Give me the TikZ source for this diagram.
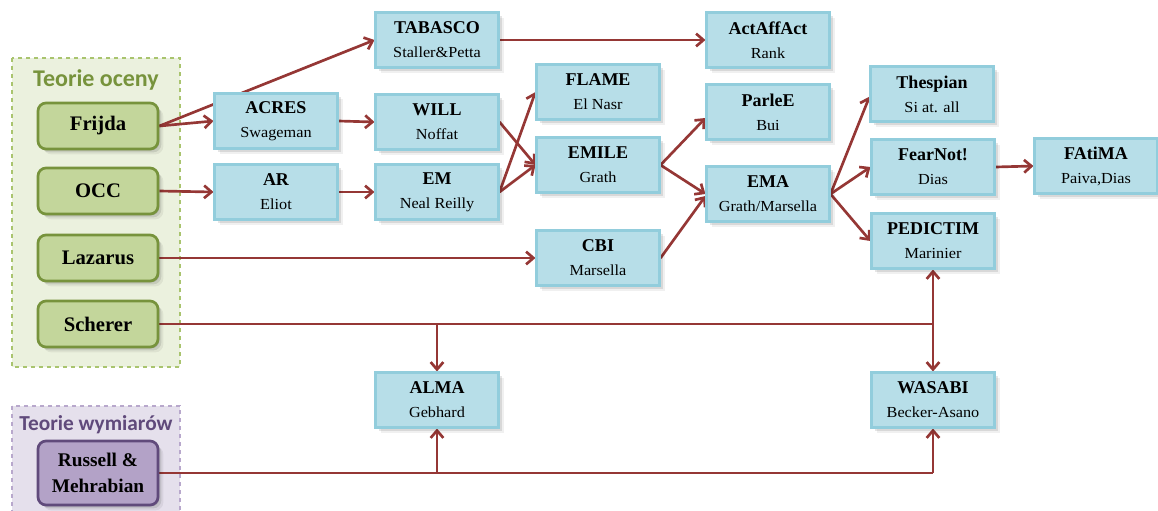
\documentclass[tikz,border=0pt]{standalone}
\usepackage{fontspec}
\setmainfont{Liberation Serif}
\newfontfamily\subfont[FakeStretch=1.06]{Liberation Serif}
\newfontfamily\grpfont{Carlito}
\usetikzlibrary{arrows.meta,shadows,calc}

\definecolor{boxfill}{HTML}{B7DEE8}
\definecolor{boxedge}{HTML}{92CDDC}
\definecolor{apprfill}{HTML}{C3D69B}
\definecolor{appredge}{HTML}{77933C}
\definecolor{apprgroup}{HTML}{EBF1DE}
\definecolor{apprdash}{HTML}{A9C46E}
\definecolor{dimfill}{HTML}{B3A2C7}
\definecolor{dimedge}{HTML}{604A7B}
\definecolor{dimgroup}{HTML}{E5E0EC}
\definecolor{dimdash}{HTML}{B8A8CC}
\definecolor{linkred}{HTML}{953735}

\pgfdeclarelayer{groups}
\pgfdeclarelayer{links}
\pgfsetlayers{groups,links,main}

\newcommand{\boxtitle}[1]{{\bfseries\fontsize{13.5}{18}\selectfont #1}}
\newcommand{\boxsub}[1]{{\subfont\fontsize{11.5}{19.5}\selectfont #1}}

\tikzset{
  % a soft shadow built from three stacked translucent copies
  softshadow/.style={
    drop shadow={shadow xshift=1pt, shadow yshift=-1pt, opacity=0.16, fill=black},
    drop shadow={shadow xshift=2.5pt, shadow yshift=-2.5pt, opacity=0.10, fill=black},
    drop shadow={shadow xshift=4pt, shadow yshift=-4pt, opacity=0.06, fill=black}},
  modelbox/.style={rectangle, draw=boxedge, fill=boxfill, line width=1.8pt,
    minimum width=92pt, minimum height=41pt, inner sep=0pt, align=center,
    font=\fontsize{13.5}{18}\selectfont, softshadow},
  theorybox/.style={rectangle, rounded corners=6pt, draw=appredge, fill=apprfill,
    line width=2pt, minimum width=90pt, minimum height=34.5pt, inner sep=0pt,
    align=center, font=\bfseries\fontsize{15.5}{18}\selectfont, softshadow},
  dimbox/.style={theorybox, draw=dimedge, fill=dimfill, minimum height=48pt,
    font=\bfseries\fontsize{14.5}{20}\selectfont},
  grouptitle/.style={font=\grpfont\bfseries, inner sep=0pt},
  link/.style={draw=linkred, line width=2pt,
    -{Straight Barb[length=5.5pt,width=9.5pt]}},
  plainlink/.style={draw=linkred, line width=2pt},
}

\begin{document}
\begin{tikzpicture}[x=0.75pt,y=-0.75pt]
\useasboundingbox (0,0) rectangle (1158,511);

% theory groups
\begin{pgfonlayer}{groups}
  \path[draw=apprdash, fill=apprgroup, dashed, line width=0.8pt] (12,58) rectangle (180,367);
  \path[draw=dimdash, fill=dimgroup, dashed, line width=0.8pt] (12,406) rectangle (180,514);
\end{pgfonlayer}
\node[grouptitle, text=appredge, font=\grpfont\bfseries\fontsize{18}{20}\selectfont] (apprtitle) at (96,80) {Teorie oceny};
\node[grouptitle, text=dimedge, font=\grpfont\bfseries\fontsize{16}{18}\selectfont] (dimtitle) at (96,425) {Teorie wymiarów};

% theories
\node[theorybox] (frijda)  at (98,126) {Frijda};
\node[theorybox] (occ)     at (98,191) {OCC};
\node[theorybox] (lazarus) at (98,258) {Lazarus};
\node[theorybox] (scherer) at (98,324) {Scherer};
\node[dimbox]    (russell) at (98,473) {Russell \&\\Mehrabian};

% architectures
\node[modelbox] (tabasco)   at (437,40)  {\boxtitle{TABASCO}\\\boxsub{Staller\&Petta}};
\node[modelbox] (acres)     at (276,121) {\boxtitle{ACRES}\\\boxsub{Swageman}};
\node[modelbox] (ar)        at (276,192) {\boxtitle{AR}\\\boxsub{Eliot}};
\node[modelbox] (will)      at (437,122) {\boxtitle{WILL}\\\boxsub{Noffat}};
\node[modelbox] (em)        at (437,192) {\boxtitle{EM}\\\boxsub{Neal Reilly}};
\node[modelbox] (flame)     at (598,92)  {\boxtitle{FLAME}\\\boxsub{El Nasr}};
\node[modelbox] (emile)     at (598,165) {\boxtitle{EMILE}\\\boxsub{Grath}};
\node[modelbox] (cbi)       at (598,258) {\boxtitle{CBI}\\\boxsub{Marsella}};
\node[modelbox] (actaffact) at (768,40)  {\boxtitle{ActAffAct}\\\boxsub{Rank}};
\node[modelbox] (parlee)    at (768,112) {\boxtitle{ParleE}\\\boxsub{Bui}};
\node[modelbox] (ema)       at (768,194) {\boxtitle{EMA}\\\boxsub{Grath/Marsella}};
\node[modelbox] (thespian)  at (932,94)  {\boxtitle{Thespian}\\\boxsub{Si at. all}};
\node[modelbox] (fearnot)   at (933,167) {\boxtitle{FearNot!}\\\boxsub{Dias}};
\node[modelbox] (pedictim)  at (933,241) {\boxtitle{PEDICTIM}\\\boxsub{Marinier}};
\node[modelbox] (fatima)    at (1096,166) {\boxtitle{FAtiMA}\\\boxsub{Paiva,Dias}};
\node[modelbox] (alma)      at (437,400) {\boxtitle{ALMA}\\\boxsub{Gebhard}};
\node[modelbox] (wasabi)    at (933,400) {\boxtitle{WASABI}\\\boxsub{Becker-Asano}};

% junctions of the shared lines
\coordinate (schererend) at (scherer.east -| pedictim.south);
\coordinate (scheralma)  at (scherer.east -| alma.north);
\coordinate (russellend) at (russell.east -| wasabi.south);
\coordinate (russalma)   at (russell.east -| alma.south);

\begin{pgfonlayer}{links}
  \draw[link] (frijda.east) -- (tabasco.west);
  \draw[link] (frijda.east) -- (acres.west);
  \draw[link] (occ.east) -- (ar.west);
  \draw[link] (acres.east) -- (will.west);
  \draw[link] (ar.east) -- (em.west);
  \draw[link] (tabasco.east) -- (actaffact.west);
  \draw[link] (will.east) -- (emile.west);
  \draw[link] (em.east) -- (emile.west);
  \draw[link] (em.east) -- (flame.west);
  \draw[link] (lazarus.east) -- (cbi.west);
  \draw[link] (emile.east) -- ([yshift=-4.5pt]parlee.west);
  \draw[link] (emile.east) -- (ema.west);
  \draw[link] (cbi.east) -- ([yshift=-1.5pt]ema.west);
  \draw[link] (ema.east) -- ([yshift=-2pt]thespian.west);
  \draw[link] (ema.east) -- (fearnot.west);
  \draw[link] (ema.east) -- (pedictim.west);
  \draw[link] (fearnot.east) -- (fatima.west);
  % Scherer feeds PEDICTIM, WASABI and ALMA
  \draw[plainlink] (scherer.east) -- (schererend);
  \draw[link] (schererend) -- (pedictim.south);
  \draw[link] (schererend) -- (wasabi.north);
  \draw[link] (scheralma) -- (alma.north);
  % Russell & Mehrabian feeds ALMA and WASABI
  \draw[plainlink] (russell.east) -- (russellend);
  \draw[link] (russellend) -- (wasabi.south);
  \draw[link] (russalma) -- (alma.south);
\end{pgfonlayer}
\end{tikzpicture}
\end{document}
